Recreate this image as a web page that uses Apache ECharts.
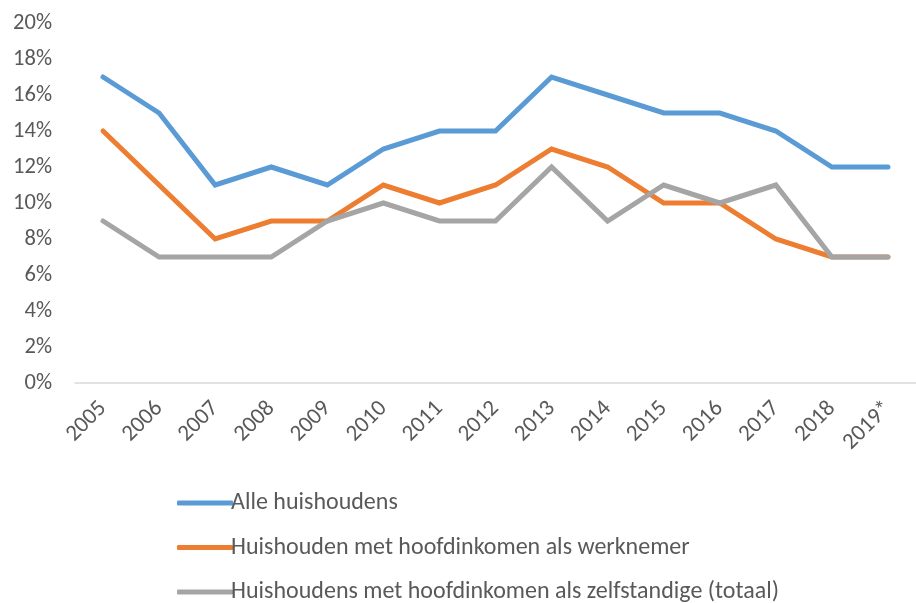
<!DOCTYPE html>
<html><head><meta charset="utf-8">
<script src="https://cdn.jsdelivr.net/npm/echarts@6/dist/echarts.min.js"></script>
<style>html,body{margin:0;padding:0;background:#fff}#c{width:916px;height:603px}</style>
</head><body><div id="c"></div>
<script>
const categories = ['2005','2006','2007','2008','2009','2010','2011','2012','2013','2014','2015','2016','2017','2018','2019*'];
const alleHuishoudens = [17,15,11,12,11,13,14,14,17,16,15,15,14,12,12];
const werknemer = [14,11,8,9,9,11,10,11,13,12,10,10,8,7,7];
const zelfstandige = [9,7,7,7,9,10,9,9,12,9,11,10,11,7,7];
const seriesNames = ['Alle huishoudens','Huishouden met hoofdinkomen als werknemer','Huishoudens met hoofdinkomen als zelfstandige (totaal)'];
const colors = ['#5B9BD5','#ED7D31','#A5A5A5'];
const font = 'Carlito, "Liberation Sans Narrow", "Open Sans", sans-serif';
const chart = echarts.init(document.getElementById('c'));
const mk = (name, data, color) => ({
  name, type:'line', data, symbol:'none', color,
  lineStyle:{width:5, color, cap:'round', join:'miter'}
});
chart.setOption({
  animation:false,
  grid:{left:75, top:23, width:851, bottom:220, containLabel:false},
  xAxis:{type:'category', data:categories, boundaryGap:true,
    axisLine:{lineStyle:{color:'#D9D9D9', width:1.5}},
    axisTick:{show:false},
    axisLabel:{rotate:45, color:'#595959', fontSize:23, fontFamily:font, margin:22, interval:0}},
  yAxis:{type:'value', min:0, max:20, interval:2,
    axisLine:{show:false}, axisTick:{show:false}, splitLine:{show:false},
    axisLabel:{formatter:'{value}%', color:'#595959', fontSize:22.5, fontFamily:font, margin:23}},
  legend:{orient:'vertical', left:172, top:486, height:120, itemGap:20.5, itemWidth:56, itemHeight:5, icon:'roundRect',
    textStyle:{color:'#595959', fontSize:24, fontFamily:font, padding:[0,0,0,-7]},
    data:seriesNames},
  series:[mk(seriesNames[0], alleHuishoudens, colors[0]), mk(seriesNames[1], werknemer, colors[1]), mk(seriesNames[2], zelfstandige, colors[2])]
});
</script></body></html>
